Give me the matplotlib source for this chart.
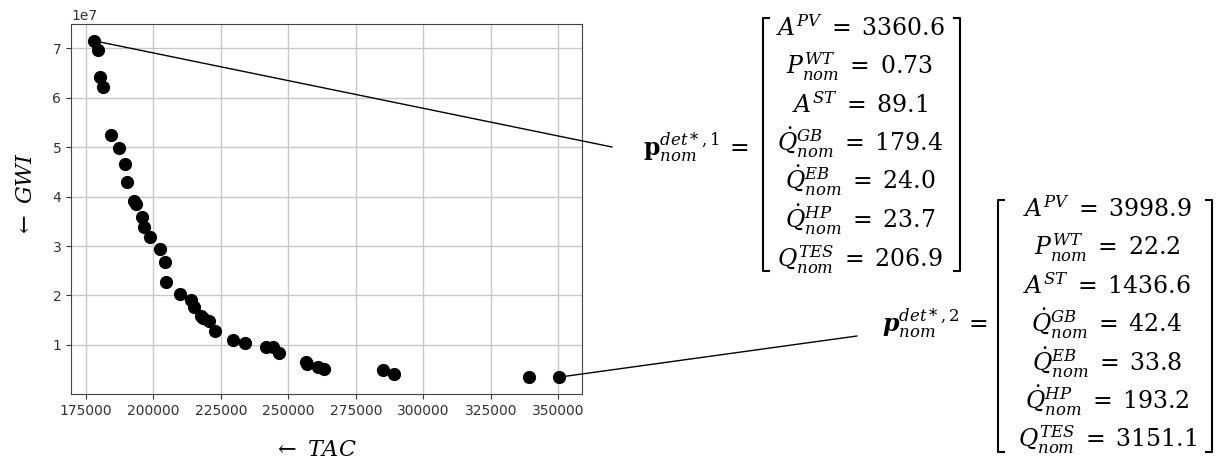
import matplotlib
matplotlib.use("Agg")
import matplotlib.pyplot as plt
from matplotlib.lines import Line2D

# ---- data ----
tac = [178100, 179600, 180300, 181400, 184400, 187400, 189600, 190200, 192900, 193700,
       195700, 196400, 198600, 202600, 204400, 204800, 210000, 214100, 215000, 217600,
       218400, 220600, 222900, 229400, 233800, 241700, 244400, 246700, 256500, 256900,
       261000, 263300, 285200, 289200, 339000, 350200]
gwi = [7.155e7, 6.966e7, 6.427e7, 6.211e7, 5.254e7, 4.978e7, 4.667e7, 4.290e7, 3.912e7, 3.845e7,
       3.582e7, 3.380e7, 3.178e7, 2.935e7, 2.685e7, 2.274e7, 2.038e7, 1.903e7, 1.769e7, 1.587e7,
       1.539e7, 1.492e7, 1.283e7, 1.108e7, 1.034e7, 0.960e7, 0.960e7, 0.831e7, 0.656e7, 0.622e7,
       0.562e7, 0.521e7, 0.488e7, 0.413e7, 0.346e7, 0.346e7]

xticks = [175000, 200000, 225000, 250000, 275000, 300000, 325000, 350000]
yticks = [1e7, 2e7, 3e7, 4e7, 5e7, 6e7, 7e7]

param_names = [r'A^{PV}', r'P_{nom}^{WT}', r'A^{ST}', r'\dot{Q}_{nom}^{GB}',
               r'\dot{Q}_{nom}^{EB}', r'\dot{Q}_{nom}^{HP}', r'Q_{nom}^{TES}']
values_1 = ['3360.6', '0.73', '89.1', '179.4', '24.0', '23.7', '206.9']
values_2 = ['3998.9', '22.2', '1436.6', '42.4', '33.8', '193.2', '3151.1']
label_1 = r'$\mathbf{p}_{nom}^{det*,1}\,=$'
label_2 = r'$\mathbfit{p}_{nom}^{det*,2}\,=$'
sel_1 = 0    # index of selected point 1
sel_2 = 35   # index of selected point 2

# ---- figure ----
plt.rcParams['mathtext.fontset'] = 'dejavuserif'
W, H = 1226, 468
fig = plt.figure(figsize=(W / 100, H / 100), dpi=100)

def fx(px):
    return px / W

def fy(py):
    return 1 - py / H

TICK_FS = 10

ax = fig.add_axes([fx(71), fy(394), (582 - 71) / W, (394 - 24) / H])
ax.scatter(tac, gwi, s=72, color='black', zorder=3)
ax.set_xticks(xticks)
ax.set_yticks(yticks)
ax.grid(True, color='#c8c8c8', linewidth=1.0)
ax.set_axisbelow(True)
ax.tick_params(colors='#333333', labelsize=TICK_FS)
for sp in ax.spines.values():
    sp.set_color('#444444')
off = ax.yaxis.get_offset_text()
off.set_fontsize(TICK_FS)
off.set_color('#333333')

ax.set_xlabel(r'$\leftarrow\ TAC$', fontsize=16, va='center', ha='center')
ax.set_ylabel(r'$\leftarrow\ GWI$', fontsize=16, va='center', ha='center')
ax.xaxis.set_label_coords((315 - 71) / 511, -(450 - 394) / 370)
ax.yaxis.set_label_coords((26 - 71) / 511, (394 - 195) / 370)

# connecting lines
ax.annotate('', xy=(tac[sel_1], gwi[sel_1]), xycoords='data',
            xytext=(fx(612), fy(147)), textcoords='figure fraction',
            arrowprops=dict(arrowstyle='-', color='black', lw=1.0, shrinkA=0, shrinkB=0),
            annotation_clip=False)
ax.annotate('', xy=(tac[sel_2], gwi[sel_2]), xycoords='data',
            xytext=(fx(857), fy(336)), textcoords='figure fraction',
            arrowprops=dict(arrowstyle='-', color='black', lw=1.0, shrinkA=0, shrinkB=0),
            annotation_clip=False)

FS = 17

def draw_matrix(values, cx, first_base, step, top, bottom, left, right, label, lab_x, lab_y):
    for i, (nm, v) in enumerate(zip(param_names, values)):
        base = first_base + step * i
        fig.text(fx(cx), fy(base), '$' + nm + r'\;=\;' + v + '$', fontsize=FS,
                 ha='center', va='baseline')
    serif = 6
    for x0, d in ((left, 1), (right, -1)):
        fig.add_artist(Line2D([fx(x0 + d * serif), fx(x0), fx(x0), fx(x0 + d * serif)],
                              [fy(top), fy(top), fy(bottom), fy(bottom)],
                              color='black', lw=1.5))
    fig.text(fx(lab_x), fy(lab_y), label, fontsize=FS, ha='right', va='center')

draw_matrix(values_1, 860, 36, 38.5, 18, 271, 763, 960, label_1, 748, 147)
draw_matrix(values_2, 1107, 217, 38.5, 200, 452, 998, 1212, label_2, 987, 323)

fig.savefig('out.png', dpi=100)
